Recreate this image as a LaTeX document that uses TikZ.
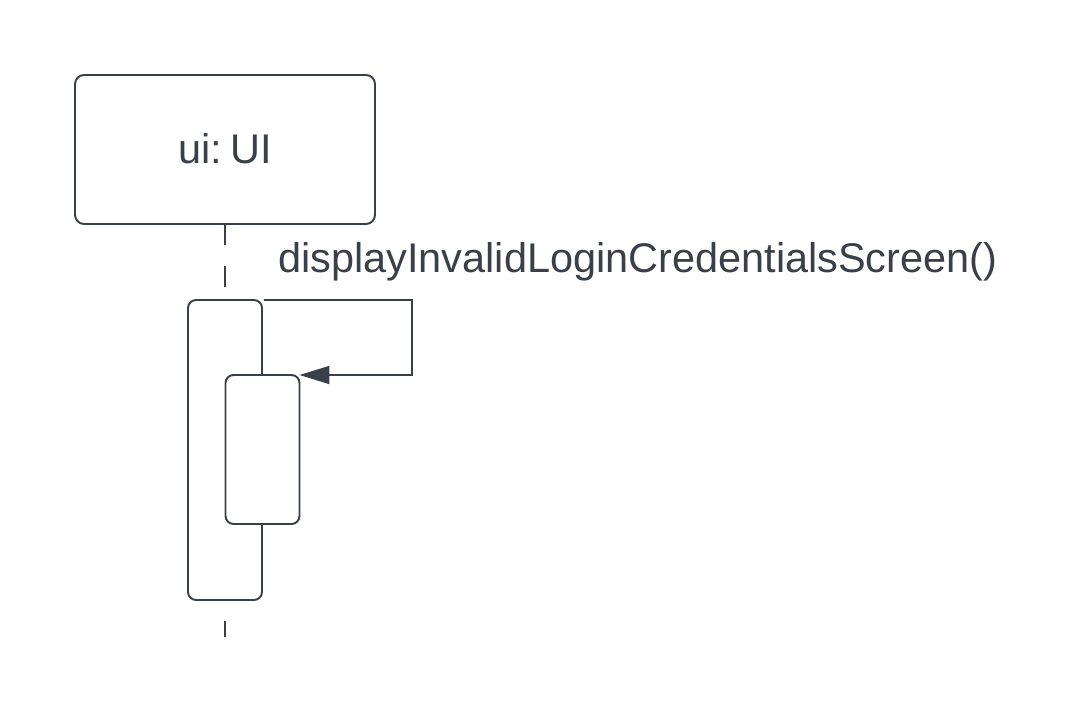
\documentclass[tikz,border=0pt]{standalone}
\usepackage{fontspec}
\setmainfont{Liberation Sans}
\usetikzlibrary{arrows.meta, positioning}
\definecolor{umlSlate}{RGB}{58, 64, 73}
\tikzset{
  headBox/.style={
    draw=umlSlate,
    line width=1.1pt,
    rounded corners=0.18cm,
    fill=white,
    minimum width=6cm,
    minimum height=2.98cm,
    inner sep=0pt,
    outer sep=0pt,
    text=umlSlate,
    font=\fontsize{23.6}{28}\selectfont
  },
  actBar/.style={
    draw=umlSlate,
    line width=1.1pt,
    rounded corners=0.16cm,
    fill=white,
    minimum width=1.48cm,
    inner sep=0pt,
    outer sep=0pt
  },
  lifeLine/.style={
    draw=umlSlate,
    line width=1.1pt,
    dash pattern=on 0.42cm off 0.42cm
  },
  msgLine/.style={
    draw=umlSlate,
    line width=1.1pt,
    -{Triangle[length=0.6cm, width=0.36cm]}
  },
  msgLabel/.style={
    text=umlSlate,
    inner sep=0pt,
    font=\fontsize{23.6}{28}\selectfont
  }
}
\begin{document}
\begin{tikzpicture}[x=0.02cm, y=-0.02cm]
  \useasboundingbox (0,0) rectangle (1088,713);
  % Lifeline head
  \node[headBox] (ui) at (225,149.5) {\raisebox{1pt}{ui:\hspace{0.2em}UI}};
  % Activation bars
  \node[actBar, minimum height=6cm] (outerAct) at (225,450) {};
  \node[actBar, minimum height=2.98cm] (innerAct) at (262.5,449.5) {};
  % Lifeline
  \coordinate (lifeEnd) at (225,637);
  \draw[lifeLine] (ui.south) -- (outerAct.north);
  \draw[lifeLine, dash phase=0.42cm] (outerAct.south) -- (lifeEnd);
  % Self call
  \coordinate (loopTop) at (412,300);
  \coordinate (loopBot) at (412,375);
  \draw[msgLine] ([xshift=1pt]outerAct.north east) -- (loopTop) -- (loopBot) -- (innerAct.north east);
  \node[msgLabel, anchor=base west] (callText) at (278,272) {displayInvalidLoginCredentialsScreen()};
\end{tikzpicture}
\end{document}
